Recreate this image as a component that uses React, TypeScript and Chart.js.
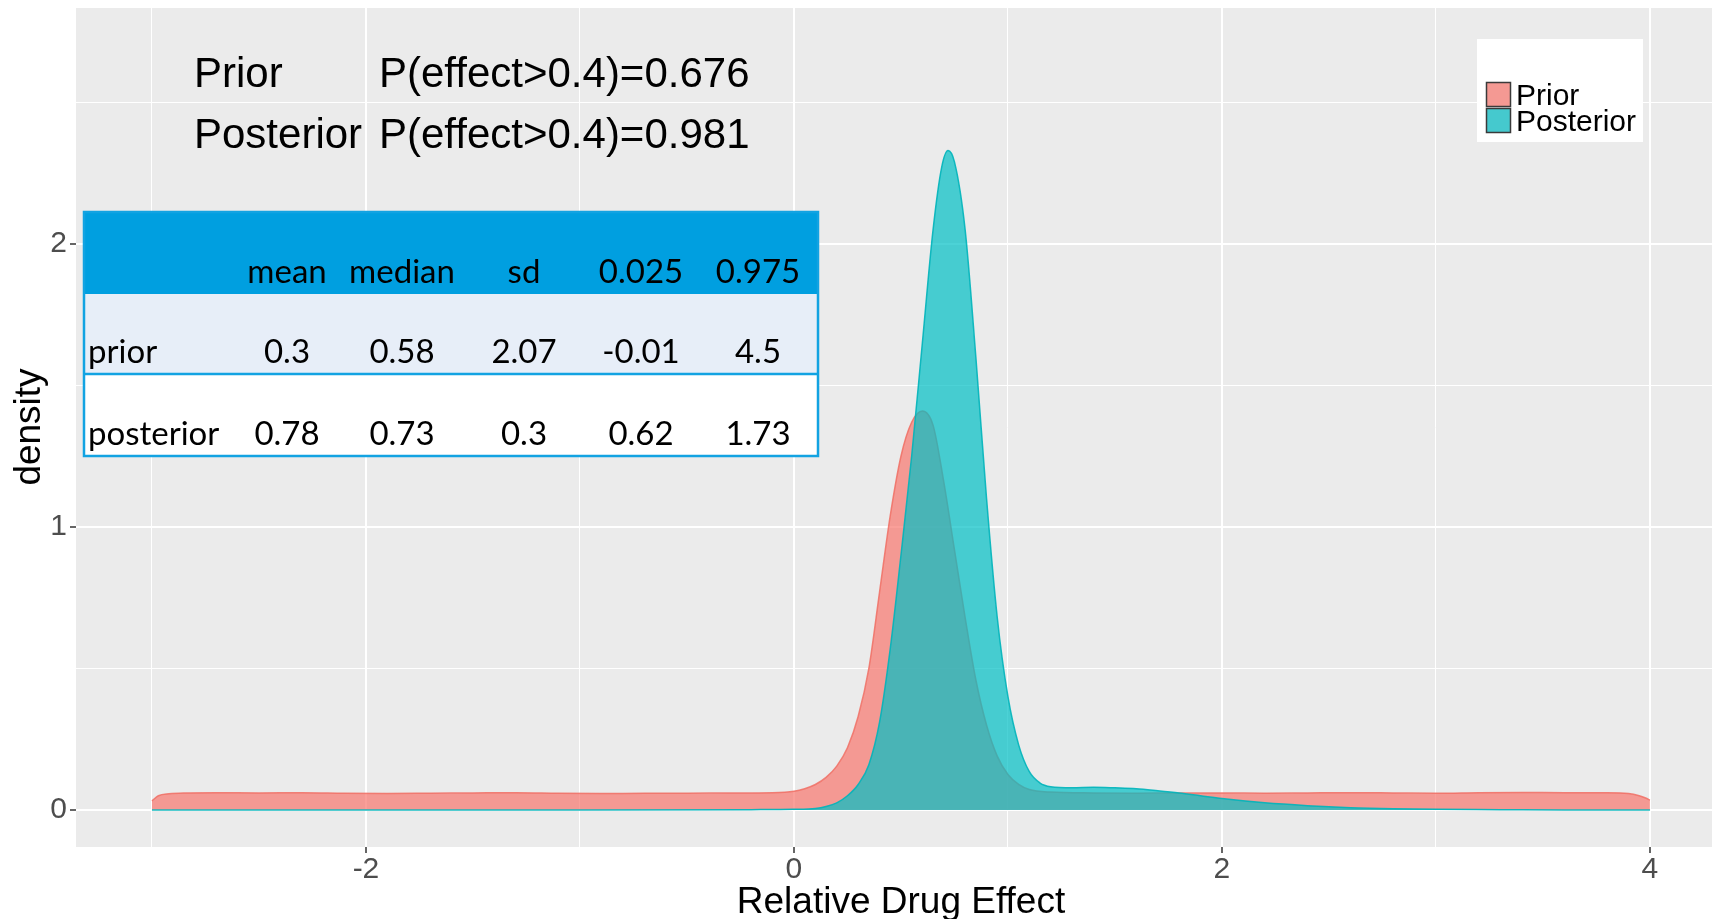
import React, { useEffect, useRef } from 'react';
import { Chart, registerables } from 'chart.js';

Chart.register(...registerables);

// ---------------- data ----------------
const PRIOR_X = [-3.0, -2.97, -2.92, -2.85, -2.7, -2.5, -2.3, -2.1, -1.9, -1.7, -1.5, -1.3, -1.1, -0.9, -0.7, -0.5, -0.3, -0.1, 0.0, 0.05, 0.1, 0.15, 0.2, 0.25, 0.3, 0.35, 0.4, 0.45, 0.5, 0.55, 0.6, 0.65, 0.7, 0.75, 0.8, 0.85, 0.9, 0.95, 1.0, 1.05, 1.1, 1.2, 1.4, 1.6, 1.8, 2.0, 2.2, 2.4, 2.6, 2.8, 3.0, 3.2, 3.4, 3.6, 3.8, 3.9, 3.95, 3.98, 4.0];
const PRIOR_Y = [0.032, 0.05, 0.057, 0.06, 0.061, 0.06, 0.061, 0.059, 0.058, 0.059, 0.06, 0.061, 0.059, 0.058, 0.059, 0.059, 0.06, 0.061, 0.066, 0.075, 0.09, 0.115, 0.155, 0.22, 0.33, 0.5, 0.77, 1.04, 1.25, 1.37, 1.41, 1.36, 1.16, 0.92, 0.68, 0.46, 0.3, 0.19, 0.125, 0.09, 0.072, 0.063, 0.06, 0.059, 0.06, 0.06, 0.059, 0.06, 0.061, 0.06, 0.059, 0.061, 0.062, 0.061, 0.061, 0.058, 0.05, 0.042, 0.035];

const POST_X = [-3.0, -1.0, -0.2, 0.0, 0.1, 0.15, 0.2, 0.25, 0.3, 0.35, 0.4, 0.45, 0.5, 0.55, 0.6, 0.65, 0.69, 0.72, 0.75, 0.8, 0.85, 0.9, 0.95, 1.0, 1.05, 1.1, 1.15, 1.2, 1.3, 1.4, 1.5, 1.6, 1.7, 1.8, 1.9, 2.0, 2.2, 2.4, 2.6, 2.8, 3.0, 3.3, 3.6, 4.0];
const POST_Y = [0.0, 0.0, 0.001, 0.002, 0.005, 0.012, 0.025, 0.05, 0.09, 0.16, 0.31, 0.57, 0.9, 1.25, 1.65, 2.05, 2.27, 2.33, 2.29, 2.05, 1.6, 1.1, 0.68, 0.4, 0.23, 0.135, 0.095, 0.082, 0.078, 0.08, 0.078, 0.075, 0.068, 0.06, 0.05, 0.04, 0.025, 0.015, 0.008, 0.004, 0.002, 0.001, 0.0, 0.0];

const SERIES_NAMES = ['Prior', 'Posterior'];
const X_MAJOR_TICKS = [-2, 0, 2, 4];
const Y_MAJOR_TICKS = [0, 1, 2];

const ANNOT_LABELS = ['Prior', 'Posterior'];
const ANNOT_PROBS = ['P(effect>0.4)=0.676', 'P(effect>0.4)=0.981'];

const TABLE_COLS = ['mean', 'median', 'sd', '0.025', '0.975'];
const TABLE_ROWS = ['prior', 'posterior'];
const PRIOR_STATS = ['0.3', '0.58', '2.07', '-0.01', '4.5'];
const POST_STATS = ['0.78', '0.73', '0.3', '0.62', '1.73'];

const X_TITLE = 'Relative Drug Effect';
const Y_TITLE = 'density';

// ---------------- styling ----------------
const W = 1712;
const H = 919;
const SANS = '"Liberation Sans", Arial, Helvetica, sans-serif';
const TABLE_FONT = 'Lato, "Open Sans", sans-serif';
const PRIOR_FILL = 'rgba(248,118,109,0.7)';
const PRIOR_LINE = 'rgba(240,110,100,0.85)';
const POST_FILL = 'rgba(0,191,196,0.7)';
const POST_LINE = 'rgba(0,180,186,0.9)';

const isMajor = (v: number, majors: number[]) => majors.some((m) => Math.abs(m - v) < 1e-9);

const bgPlugin = {
  id: 'bgPanel',
  beforeDraw(chart: any) {
    const { ctx, chartArea } = chart;
    ctx.save();
    ctx.fillStyle = '#ffffff';
    ctx.fillRect(0, 0, chart.width, chart.height);
    ctx.fillStyle = '#EBEBEB';
    ctx.fillRect(chartArea.left, chartArea.top, chartArea.right - chartArea.left, chartArea.bottom - chartArea.top);
    ctx.restore();
  },
};

const overlayPlugin = {
  id: 'overlay',
  afterDraw(chart: any) {
    const { ctx } = chart;
    ctx.save();

    // annotations
    ctx.fillStyle = '#000000';
    ctx.font = `42px ${SANS}`;
    ctx.textAlign = 'left';
    ctx.textBaseline = 'alphabetic';
    const annBase = [87, 148];
    ANNOT_LABELS.forEach((t, i) => {
      ctx.fillText(t, 194, annBase[i]);
      ctx.fillText(ANNOT_PROBS[i], 379, annBase[i]);
    });

    // table
    const tl = 84, tr = 818, tt = 212, th = 294, tm = 374, tb = 456;
    ctx.fillStyle = '#009FE0';
    ctx.fillRect(tl, tt, tr - tl, th - tt);
    ctx.fillStyle = '#E7EEF8';
    ctx.fillRect(tl, th, tr - tl, tm - th);
    ctx.fillStyle = '#FFFFFF';
    ctx.fillRect(tl, tm, tr - tl, tb - tm);
    ctx.strokeStyle = '#12A3E2';
    ctx.lineWidth = 2.5;
    ctx.strokeRect(tl, tt, tr - tl, tb - tt);
    ctx.beginPath();
    ctx.moveTo(tl, tm);
    ctx.lineTo(tr, tm);
    ctx.stroke();

    const colCenters = [287, 402, 524, 641, 758];
    ctx.font = `33px ${TABLE_FONT}`;
    ctx.fillStyle = '#000000';
    ctx.textAlign = 'center';
    TABLE_COLS.forEach((c, i) => ctx.fillText(c, colCenters[i], 283));
    const rowBase = [363, 445];
    const rowVals = [PRIOR_STATS, POST_STATS];
    TABLE_ROWS.forEach((r, ri) => {
      ctx.textAlign = 'left';
      ctx.fillText(r, 88, rowBase[ri]);
      ctx.textAlign = 'center';
      rowVals[ri].forEach((v, ci) => ctx.fillText(v, colCenters[ci], rowBase[ri]));
    });

    // legend
    ctx.fillStyle = '#FFFFFF';
    ctx.fillRect(1477, 39, 166, 103);
    const keyFills = ['rgb(244,153,147)', 'rgb(69,201,206)'];
    const keyTops = [82, 108];
    const labelBase = [105, 131];
    SERIES_NAMES.forEach((n, i) => {
      ctx.fillStyle = keyFills[i];
      ctx.fillRect(1486, keyTops[i], 25, 25);
      ctx.strokeStyle = '#3a3a3a';
      ctx.lineWidth = 1.5;
      ctx.strokeRect(1486.5, keyTops[i] + 0.5, 24, 24);
      ctx.fillStyle = '#000000';
      ctx.font = `30px ${SANS}`;
      ctx.textAlign = 'left';
      ctx.fillText(n, 1516, labelBase[i]);
    });

    // axis titles
    ctx.fillStyle = '#000000';
    ctx.font = `37px ${SANS}`;
    ctx.textAlign = 'center';
    ctx.textBaseline = 'alphabetic';
    ctx.fillText(X_TITLE, 901, 913);
    ctx.save();
    ctx.translate(40, 427);
    ctx.rotate(-Math.PI / 2);
    ctx.fillText(Y_TITLE, 0, 0);
    ctx.restore();

    ctx.restore();
  },
};

export default function App() {
  const ref = useRef<HTMLCanvasElement>(null);

  useEffect(() => {
    const canvas = ref.current;
    if (!canvas) return;
    const priorData = PRIOR_X.map((x, i) => ({ x, y: PRIOR_Y[i] }));
    const postData = POST_X.map((x, i) => ({ x, y: POST_Y[i] }));

    const chart = new Chart(canvas, {
      type: 'line',
      data: {
        datasets: [
          {
            label: SERIES_NAMES[0],
            data: priorData,
            order: 2,
            fill: 'origin',
            backgroundColor: PRIOR_FILL,
            borderColor: PRIOR_LINE,
            borderWidth: 1.5,
            pointRadius: 0,
            cubicInterpolationMode: 'monotone',
          },
          {
            label: SERIES_NAMES[1],
            data: postData,
            order: 1,
            fill: 'origin',
            backgroundColor: POST_FILL,
            borderColor: POST_LINE,
            borderWidth: 1.5,
            pointRadius: 0,
            cubicInterpolationMode: 'monotone',
          },
        ],
      },
      options: {
        animation: false,
        responsive: false,
        maintainAspectRatio: false,
        devicePixelRatio: 1,
        layout: { padding: { top: 8, right: 0, bottom: 0, left: 0 } },
        plugins: {
          legend: { display: false },
          tooltip: { enabled: false },
          title: { display: false },
        },
        scales: {
          x: {
            type: 'linear',
            min: -3.355,
            max: 4.29,
            afterFit: (s: any) => {
              s.height = 72;
              s.paddingLeft = 0;
              s.paddingRight = 0;
            },
            border: { display: false },
            grid: {
              color: '#FFFFFF',
              lineWidth: (c: any) => (isMajor(c.tick?.value, X_MAJOR_TICKS) ? 2 : 1),
              tickColor: (c: any) => (isMajor(c.tick?.value, X_MAJOR_TICKS) ? '#333333' : 'rgba(0,0,0,0)'),
              tickLength: 6,
              tickWidth: 1.5,
              drawTicks: true,
            },
            ticks: {
              stepSize: 1,
              includeBounds: false,
              autoSkip: false,
              maxRotation: 0,
              padding: -1,
              color: '#4D4D4D',
              font: { family: SANS, size: 30 },
              callback: (v: any) => (isMajor(Number(v), X_MAJOR_TICKS) ? String(v) : ''),
            },
          },
          y: {
            type: 'linear',
            min: -0.131,
            max: 2.834,
            afterFit: (s: any) => {
              s.width = 76;
              s.paddingTop = 0;
              s.paddingBottom = 0;
            },
            border: { display: false },
            grid: {
              color: '#FFFFFF',
              lineWidth: (c: any) => (isMajor(c.tick?.value, Y_MAJOR_TICKS) ? 2 : 1),
              tickColor: (c: any) => (isMajor(c.tick?.value, Y_MAJOR_TICKS) ? '#333333' : 'rgba(0,0,0,0)'),
              tickLength: 6,
              tickWidth: 1.5,
              drawTicks: true,
            },
            ticks: {
              stepSize: 0.5,
              includeBounds: false,
              autoSkip: false,
              padding: 3,
              color: '#4D4D4D',
              font: { family: SANS, size: 30 },
              callback: (v: any) => (isMajor(Number(v), Y_MAJOR_TICKS) ? String(v) : ''),
            },
          },
        },
      } as any,
      plugins: [bgPlugin, overlayPlugin],
    });

    return () => chart.destroy();
  }, []);

  return (
    <div style={{ position: 'fixed', left: 0, top: 0, width: W, height: H, background: '#fff' }}>
      <canvas ref={ref} width={W} height={H} style={{ width: W, height: H, display: 'block' }} />
    </div>
  );
}
